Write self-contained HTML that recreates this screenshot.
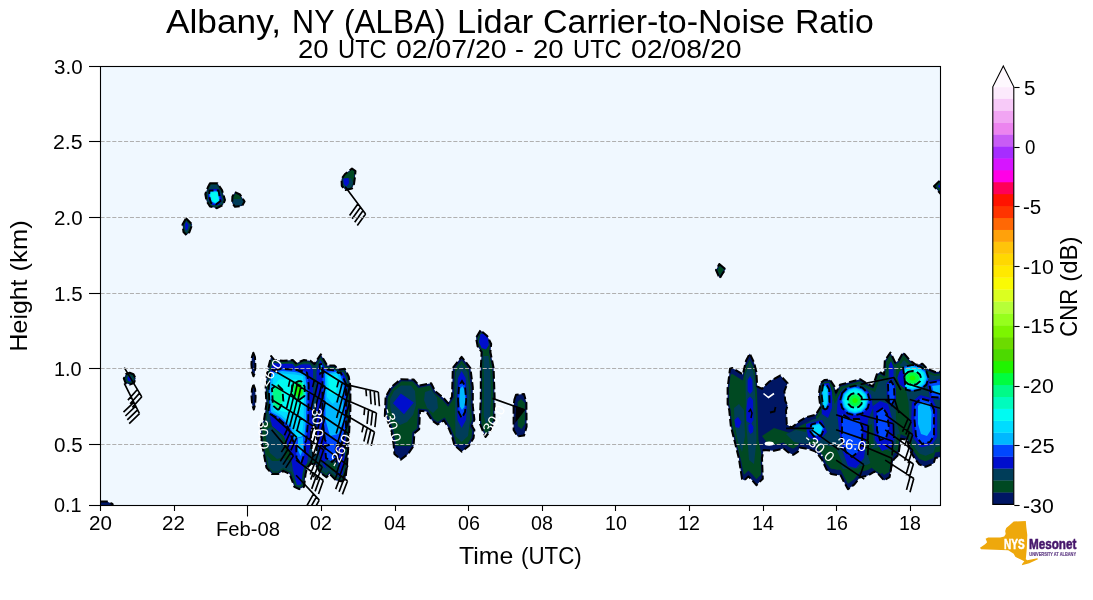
<!DOCTYPE html>
<html><head><meta charset="utf-8"><title>Albany, NY (ALBA) Lidar Carrier-to-Noise Ratio</title>
<style>html,body{margin:0;padding:0;background:#fff;overflow:hidden}svg{display:block;will-change:transform}text{font-family:"Liberation Sans",sans-serif;fill:#000}</style></head><body>
<svg width="1093" height="600" viewBox="0 0 1093 600">
<rect x="0" y="0" width="1093" height="600" fill="#fff"/>
<rect x="100.5" y="66.5" width="840.0" height="439.0" fill="#f0f8ff"/>
<clipPath id="axclip"><rect x="100.5" y="66.5" width="840.0" height="439.0"/></clipPath>
<g clip-path="url(#axclip)">
<path d="M100.0 501.5L107.0 501.5L112.5 504.0L113.0 506.0L100.0 506.0Z" fill="#001664"/>
<path d="M129.7 372.8L133.5 374.2L135.6 378.5L134.0 383.0L129.7 384.6L125.5 383.0L123.8 378.5L125.8 374.3Z" fill="#001664"/>
<path d="M129.7 374.1L126.7 375.2L125.1 378.6L126.4 382.1L129.7 383.3L133.1 382.1L134.3 378.6L132.6 375.2Z" fill="#004922"/>
<path d="M129.7 375.4L127.6 376.2L126.4 378.6L127.4 381.1L129.7 382.0L132.1 381.1L133.0 378.6L131.8 376.1Z" fill="#003d59"/>
<path d="M131.0 376.4L129.7 375.9L127.9 376.6L127.8 376.9L127.5 379.0L128.4 381.0L129.7 381.5L131.5 380.9Z" fill="#000ecd"/>
<path d="M186.0 218.2L192.2 224.5L189.5 232.0L186.5 235.2L183.5 232.0L182.5 224.5Z" fill="#001664"/>
<path d="M186.2 219.7L183.4 224.7L184.4 231.6L186.5 233.9L188.7 231.5L191.2 224.7Z" fill="#004922"/>
<path d="M186.4 221.2L184.4 224.9L185.2 231.2L186.5 232.6L187.9 231.0L190.1 225.0Z" fill="#003d59"/>
<path d="M186.2 221.5L188.5 225.0L187.5 229.5L185.6 230.0L185.0 225.0Z" fill="#000ecd"/>
<path d="M210.0 183.3L217.5 183.3L222.0 190.0L225.0 200.0L223.0 205.0L217.0 208.2L210.0 206.5L206.5 201.0L205.3 194.0L208.0 187.0Z" fill="#001664"/>
<path d="M210.5 184.2L208.8 187.4L206.2 194.1L207.4 200.7L210.6 205.7L216.9 207.2L222.3 204.4L224.0 200.0L221.2 190.4L217.0 184.2Z" fill="#004922"/>
<path d="M211.1 185.1L209.6 187.8L207.2 194.2L208.2 200.3L211.1 204.9L216.8 206.3L221.6 203.7L223.1 199.9L220.4 190.8L216.5 185.1Z" fill="#003d59"/>
<path d="M209.5 189.0L208.8 190.9L208.1 197.7L208.5 199.7L211.8 204.7L213.0 205.0L218.4 205.0L219.3 204.5L222.0 200.0L219.2 189.7L218.7 189.0Z" fill="#000ecd"/>
<path d="M209.0 196.0L211.0 203.0L216.0 204.5L220.5 201.0L218.5 190.5L209.5 190.5Z" fill="#0047ff"/>
<path d="M209.6 195.0L211.5 201.5L215.5 203.5L219.5 201.3L218.0 191.3L210.3 191.5Z" fill="#00dcff"/>
<path d="M210.5 195.0L212.2 200.5L215.5 202.3L218.5 200.5L217.3 192.3L211.0 192.5Z" fill="#00fbf2"/>
<path d="M235.0 192.2L240.0 194.5L244.6 201.5L242.0 206.0L235.0 206.8L232.1 203.0L232.4 196.5Z" fill="#001664"/>
<path d="M235.4 193.4L233.3 196.8L233.0 202.7L235.4 205.8L241.4 205.2L243.5 201.5L239.4 195.2Z" fill="#004922"/>
<path d="M233.3 199.0L233.1 202.7L235.5 205.7L241.4 205.1L243.4 201.5L241.8 199.0Z" fill="#003d59"/>
<path d="M352.0 168.5L355.5 171.0L355.0 177.0L354.0 184.0L352.0 188.5L345.5 190.0L341.8 186.0L341.5 179.0L345.0 174.0Z" fill="#001664"/>
<path d="M352.0 169.6L345.7 174.6L342.4 179.3L342.7 185.6L345.8 189.0L351.4 187.7L353.1 183.7L354.1 176.9L354.6 171.4Z" fill="#004922"/>
<path d="M343.0 180.0L351.0 178.0L353.0 183.0L350.0 188.0L344.0 188.0Z" fill="#003d59"/>
<path d="M343.3 178.5L348.5 178.0L349.0 183.0L346.5 186.5L343.8 184.0Z" fill="#000ecd"/>
<path d="M719.3 264.0L725.7 269.3L722.7 273.3L719.7 278.3L718.3 275.3L716.0 270.0Z" fill="#001664"/>
<path d="M719.6 265.7L717.2 270.1L719.3 274.8L719.8 276.0L721.8 272.7L721.8 272.6L724.2 269.5Z" fill="#004922"/>
<path d="M934.0 186.3L941.0 179.3L941.0 194.3Z" fill="#001664"/>
<path d="M935.4 186.3L940.0 191.6L940.0 181.7Z" fill="#004922"/>
<path d="M937.5 186.3L941.0 183.5L941.0 189.0Z" fill="#000ecd"/>
<path d="M253.3 352.7L255.0 357.0L255.4 366.0L254.8 373.0L253.5 376.3L252.0 372.0L251.4 364.0L251.9 357.0Z" fill="#001664"/>
<path d="M253.5 384.5L255.1 389.0L255.6 397.0L255.1 405.0L253.8 409.6L252.2 405.0L251.5 396.0L252.0 389.0Z" fill="#001664"/>
<path d="M271.2 356.0L274.4 360.0L283.2 360.8L292.8 360.0L296.0 363.2L304.0 360.0L310.4 360.8L314.4 364.0L320.8 354.4L327.2 365.6L334.4 365.6L339.2 369.6L344.8 368.8L348.8 376.8L350.4 386.4L350.4 410.0L348.8 438.8L347.2 462.8L345.6 478.0L342.4 481.5L336.0 480.4L329.6 474.0L326.4 477.2L320.0 472.4L316.0 465.0L311.0 463.5L307.0 468.0L305.6 474.0L304.0 486.8L299.2 489.2L294.4 486.8L289.6 474.0L283.2 470.8L278.4 474.0L272.0 474.0L266.4 467.6L264.0 454.8L261.6 442.0L260.8 426.0L264.0 420.0L266.4 404.0L265.6 388.0L267.2 372.0Z" fill="#001664"/>
<path d="M271.8 358.9L268.5 372.2L266.9 388.0L267.7 404.1L265.3 420.4L262.1 426.3L262.9 441.8L267.6 467.0L272.6 472.7L278.0 472.7L283.1 469.3L290.6 473.1L295.4 485.9L299.2 487.7L302.8 485.9L304.3 473.8L305.8 467.4L310.6 462.0L316.9 463.9L321.0 471.5L326.3 475.5L329.6 472.2L336.6 479.2L341.9 480.1L344.4 477.4L345.9 462.7L347.5 438.7L349.1 410.0L349.1 386.5L347.5 377.2L344.1 370.2L338.8 371.0L333.9 366.9L326.4 366.9L320.7 356.9L314.7 365.9L309.9 362.0L304.2 361.3L295.7 364.7L292.3 361.3L283.2 362.1L273.7 361.2Z" fill="#004922"/>
<path d="M272.4 361.7L269.8 372.4L268.2 388.1L269.0 404.1L266.5 420.8L263.4 426.6L264.2 441.7L268.8 466.4L273.2 471.4L277.6 471.4L283.0 467.8L291.7 472.1L296.5 484.9L299.2 486.3L301.6 485.1L303.0 473.5L304.6 466.8L310.2 460.5L317.8 462.8L322.0 470.7L326.2 473.8L329.6 470.3L337.3 478.0L341.4 478.7L343.1 476.9L344.6 462.6L346.2 438.6L347.8 409.9L347.8 386.6L346.3 377.6L343.3 371.6L338.4 372.3L333.5 368.2L325.7 368.2L320.6 359.3L315.0 367.8L309.3 363.3L304.3 362.7L295.4 366.3L291.8 362.7L283.2 363.4L273.1 362.5Z" fill="#003d59"/>
<path d="M290.0 452.0L284.0 436.0L272.0 422.0L263.7 423.4L262.1 426.3L262.5 433.7L264.0 441.8L266.4 454.6L272.0 461.0L278.4 461.0L283.2 457.8L289.6 461.0L291.9 467.1Z" fill="#004922"/>
<path d="M265.5 430.0L272.0 426.5L281.0 436.0L285.0 448.0L284.5 457.0L277.0 459.0L270.0 453.0L266.5 442.0Z" fill="#003d59"/>
<path d="M290.0 364.0L285.9 363.7L283.2 363.9L272.8 363.0L272.7 362.9L270.3 372.5L268.7 388.1L269.5 404.2L268.6 410.2L272.0 426.0L284.0 436.0L290.0 452.0L293.0 470.0L296.9 484.5L296.9 484.6L297.6 484.9L301.2 484.3L302.5 473.5L304.1 466.5L307.0 463.3L309.0 450.0L313.0 438.0L313.0 370.0L310.0 364.5L301.2 364.5L295.2 366.9L292.5 364.1Z" fill="#000ecd"/>
<path d="M316.5 372.0L316.5 440.0L319.5 455.0L324.0 467.0L329.5 469.7L329.6 469.6L330.0 470.0L332.0 471.0L340.0 477.0L342.9 473.6L344.1 462.5L345.7 438.6L347.3 409.9L347.3 386.7L345.8 377.9L345.7 377.7L343.0 372.2L338.3 372.9L333.3 368.7L330.8 368.7L325.5 369.0L325.4 368.7L320.6 360.3L319.9 361.3Z" fill="#000ecd"/>
<path d="M327.0 470.0L334.0 474.0L340.0 472.0L338.0 462.0L330.0 458.0L324.0 462.0Z" fill="#003d59"/>
<path d="M333.0 472.0L337.0 468.0L333.0 462.0L327.0 465.0Z" fill="#004922"/>
<path d="M269.3 413.4L269.4 413.5L269.6 413.7L269.7 413.8L269.9 413.9L278.7 418.8L288.1 427.3L292.9 440.7L293.0 440.9L293.1 441.1L293.2 441.3L298.2 448.3L298.3 448.5L298.5 448.6L298.7 448.8L298.8 448.9L299.0 449.0L299.2 449.1L299.5 449.1L299.7 449.2L299.9 449.2L300.1 449.2L300.3 449.2L300.5 449.1L300.8 449.1L301.0 449.0L301.2 448.9L301.3 448.7L301.5 448.6L301.7 448.4L301.8 448.3L301.9 448.1L305.9 441.1L306.0 440.9L306.1 440.7L306.2 440.4L306.2 440.2L308.2 420.2L308.2 420.0L308.7 385.0L308.7 384.9L308.7 384.7L307.2 373.7L307.1 373.5L307.1 373.3L307.0 373.1L306.9 372.9L306.8 372.7L306.7 372.6L306.5 372.4L306.4 372.3L306.2 372.2L306.0 372.1L305.8 372.0L305.6 371.9L305.4 371.8L295.4 369.8L295.2 369.8L282.2 368.8L282.0 368.8L281.7 368.8L281.5 368.8L274.5 370.3L274.3 370.4L274.1 370.5L273.9 370.6L273.7 370.7L273.6 370.8L270.2 373.8L268.7 388.1L269.5 404.2L268.6 410.0L268.7 410.5Z" fill="#0047ff"/>
<path d="M271.0 412.0L280.0 417.0L290.0 426.0L295.0 440.0L300.0 447.0L304.0 440.0L306.0 420.0L306.5 385.0L305.0 374.0L295.0 372.0L282.0 371.0L275.0 372.5L271.0 376.0L269.5 392.0Z" fill="#00b8ff"/>
<path d="M273.3 410.5L281.2 414.9L281.4 415.0L281.6 415.2L291.6 424.2L291.8 424.4L291.9 424.6L292.1 424.8L292.2 425.0L292.3 425.2L297.1 438.9L299.8 442.6L301.7 439.3L303.6 419.9L304.1 385.1L302.9 376.0L294.7 374.4L282.2 373.4L276.1 374.7L273.3 377.2L271.9 392.0Z" fill="#00dcff"/>
<path d="M273.5 407.0L281.0 411.0L291.0 413.0L300.0 411.0L304.0 400.0L303.5 383.0L296.0 379.5L279.0 379.5L272.5 388.0Z" fill="#00fbf2"/>
<path d="M277.0 409.1L277.1 409.2L277.2 409.3L277.4 409.4L277.5 409.4L277.7 409.5L277.8 409.5L278.0 409.5L278.1 409.5L278.3 409.5L278.4 409.4L278.5 409.4L278.7 409.3L278.8 409.3L278.9 409.2L279.0 409.1L279.1 409.0L279.2 408.8L279.3 408.7L283.1 401.7L283.2 401.6L283.2 401.5L283.3 401.3L283.3 401.2L283.3 401.0L283.3 400.9L282.5 390.4L282.5 390.2L282.4 390.1L282.4 389.9L282.3 389.8L282.3 389.7L282.2 389.6L282.1 389.4L278.1 385.4L278.0 385.3L277.8 385.3L277.7 385.2L277.6 385.1L277.4 385.1L277.3 385.0L277.1 385.0L277.0 385.0L276.8 385.0L276.7 385.0L276.6 385.1L276.4 385.1L276.3 385.2L276.2 385.3L276.0 385.3L272.0 388.7L272.9 405.5Z" fill="#00fcbd"/>
<path d="M273.5 404.0L278.0 408.0L281.8 401.0L281.0 390.5L277.0 386.5L272.8 390.0Z" fill="#00fa88"/>
<path d="M291.6 392.7L291.6 393.1L291.6 393.4L291.6 393.7L291.7 394.1L291.8 394.4L292.0 394.7L292.2 395.0L292.4 395.2L295.4 398.7L295.6 399.0L295.9 399.2L296.2 399.4L296.4 399.6L296.8 399.7L297.1 399.8L297.4 399.9L297.8 399.9L298.1 399.9L298.4 399.9L298.8 399.9L299.1 399.8L299.4 399.6L299.7 399.5L300.0 399.3L303.5 396.8L303.8 396.6L304.0 396.4L304.2 396.1L304.4 395.9L304.6 395.6L304.7 395.3L304.8 395.0L304.8 394.8L304.6 386.6L302.5 382.8L302.3 382.5L302.1 382.3L301.9 382.0L301.7 381.8L301.4 381.6L301.1 381.5L300.8 381.3L300.5 381.2L300.2 381.1L299.9 381.1L299.5 381.1L299.2 381.1L298.9 381.1L298.6 381.2L298.3 381.3L298.0 381.4L294.0 383.4L293.6 383.6L293.4 383.8L293.1 384.0L292.9 384.3L292.6 384.6L292.5 384.9L292.3 385.2L292.2 385.5L292.1 385.9L292.1 386.2Z" fill="#00fcbd"/>
<path d="M292.7 392.8L292.7 393.0L292.7 393.3L292.8 393.5L292.8 393.7L292.9 393.9L293.0 394.1L293.1 394.3L293.3 394.5L296.3 398.0L296.4 398.2L296.6 398.3L296.8 398.4L297.0 398.6L297.2 398.6L297.4 398.7L297.6 398.8L297.8 398.8L298.1 398.8L298.3 398.8L298.5 398.7L298.7 398.7L298.9 398.6L299.1 398.5L299.3 398.4L302.8 395.9L303.0 395.7L303.2 395.6L303.3 395.4L303.4 395.2L303.5 395.1L303.6 394.9L303.7 394.7L303.8 394.4L303.8 394.2L304.3 389.2L304.3 389.0L304.3 388.8L304.3 388.5L304.2 388.3L304.1 388.1L304.0 387.9L301.5 383.4L301.4 383.2L301.3 383.0L301.1 382.9L300.9 382.7L300.8 382.6L300.6 382.5L300.4 382.4L300.2 382.3L300.0 382.2L299.8 382.2L299.5 382.2L299.3 382.2L299.1 382.2L298.9 382.3L298.7 382.4L298.5 382.4L294.5 384.4L294.3 384.6L294.1 384.7L293.9 384.9L293.7 385.0L293.6 385.2L293.5 385.4L293.4 385.6L293.3 385.9L293.2 386.1L293.2 386.3Z" fill="#00fa88"/>
<path d="M293.9 392.9L293.9 393.0L293.9 393.1L293.9 393.2L293.9 393.4L293.9 393.5L294.0 393.6L294.1 393.7L294.1 393.7L297.1 397.2L297.2 397.3L297.3 397.4L297.4 397.5L297.5 397.5L297.6 397.6L297.7 397.6L297.8 397.6L297.9 397.6L298.0 397.6L298.1 397.6L298.3 397.6L298.4 397.6L298.5 397.5L298.6 397.5L298.7 397.4L302.2 394.9L302.3 394.9L302.3 394.8L302.4 394.7L302.5 394.6L302.5 394.5L302.6 394.4L302.6 394.3L302.6 394.2L302.6 394.1L303.1 389.1L303.1 389.0L303.1 388.9L303.1 388.8L303.1 388.7L303.1 388.5L303.0 388.4L300.5 383.9L300.4 383.8L300.4 383.8L300.3 383.7L300.2 383.6L300.1 383.5L300.0 383.5L299.9 383.4L299.8 383.4L299.7 383.4L299.6 383.4L299.5 383.4L299.4 383.4L299.3 383.4L299.2 383.4L299.1 383.4L299.0 383.5L295.0 385.5L294.9 385.5L294.8 385.6L294.7 385.7L294.6 385.8L294.5 385.9L294.5 386.0L294.4 386.1L294.4 386.2L294.4 386.3L294.4 386.4Z" fill="#00fd3f"/>
<path d="M295.0 393.0L298.0 396.5L301.5 394.0L302.0 389.0L299.5 384.5L295.5 386.5Z" fill="#20f400"/>
<path d="M296.5 458.0L301.0 464.0L305.0 452.0L304.0 436.0L296.0 438.0Z" fill="#0047ff"/>
<path d="M298.0 450.0L300.5 456.0L303.5 448.0L303.0 437.0L298.0 438.0Z" fill="#00b8ff"/>
<path d="M325.0 369.5L322.5 374.0L322.5 420.0L325.0 440.0L332.0 450.0L342.0 444.0L346.0 428.0L346.0 384.0L340.7 372.5L338.3 372.9L335.5 370.5Z" fill="#0047ff"/>
<path d="M325.0 373.0L325.5 420.0L330.0 436.0L338.5 434.0L343.5 420.0L343.5 384.0L339.4 372.7L338.3 372.9L336.9 371.7Z" fill="#00b8ff"/>
<path d="M327.0 397.0L332.5 404.0L339.0 399.0L340.5 385.0L337.5 373.5L326.5 374.5Z" fill="#00dcff"/>
<path d="M329.5 393.0L335.5 394.5L338.3 385.0L336.0 376.0L328.0 377.0Z" fill="#00fbf2"/>
<path d="M320.2 373.5L322.6 371.5L322.0 364.0L319.6 364.5Z" fill="#00b8ff"/>
<path d="M326.0 458.0L332.0 462.0L338.0 456.0L334.0 444.0L325.0 446.0Z" fill="#0047ff"/>
<path d="M384.8 416.0L385.6 396.8L391.2 387.2L400.8 379.2L413.6 379.5L419.2 385.6L431.2 383.2L435.2 391.2L444.0 398.4L448.0 403.2L452.0 396.8L452.8 368.0L461.6 356.8L470.4 368.0L472.8 387.2L472.8 406.0L474.4 419.6L472.0 426.0L474.4 430.0L473.6 438.0L468.8 446.0L461.6 451.6L454.4 445.2L452.0 436.4L448.8 428.4L444.0 420.4L437.6 424.4L432.0 420.4L426.4 411.6L420.0 410.8L419.2 429.2L414.4 433.2L413.6 446.0L408.0 454.0L400.8 459.6L394.4 454.0L393.6 444.4L391.2 430.0L385.6 415.6Z" fill="#001664"/>
<path d="M387.0 413.4L393.2 429.4L395.7 444.1L396.4 453.0L400.9 456.9L406.5 452.5L411.5 445.3L412.4 432.2L417.1 428.2L418.0 408.4L427.6 409.6L433.6 418.9L437.7 421.9L444.7 417.5L450.7 427.5L454.0 435.7L456.3 444.0L461.7 448.9L467.2 444.6L471.6 437.3L472.2 430.5L469.7 426.2L472.3 419.3L470.7 406.1L470.7 387.3L468.4 368.8L461.6 360.2L454.9 368.8L454.1 397.4L448.2 406.8L442.5 399.9L433.5 392.5L430.0 385.6L418.5 387.9L412.7 381.6L401.5 381.3L392.8 388.6L387.7 397.4Z" fill="#004922"/>
<path d="M393.7 446.0L394.4 454.0L400.8 459.6L408.0 454.0L413.6 446.0Z" fill="#001664"/>
<path d="M454.1 444.0L454.4 445.2L461.6 451.6L468.8 446.0L470.0 444.0Z" fill="#001664"/>
<path d="M390.0 399.0L394.0 391.0L401.0 385.5L411.0 385.5L415.0 391.0L416.0 405.0L413.0 415.0L407.0 422.0L400.0 425.0L395.0 420.0L390.5 410.0Z" fill="#003d59"/>
<path d="M425.0 392.0L431.0 390.0L437.0 398.0L438.0 408.0L433.0 413.0L427.0 408.0L424.0 400.0Z" fill="#003d59"/>
<path d="M456.0 372.0L461.6 364.0L467.5 372.0L469.5 395.0L470.0 420.0L468.0 436.0L461.6 442.0L455.5 436.0L455.0 410.0Z" fill="#003d59"/>
<path d="M400.8 393.4L413.8 402.4L404.0 414.2L393.0 403.2Z" fill="#000ecd"/>
<path d="M458.0 378.0L461.6 371.0L465.6 378.0L467.2 400.0L466.0 420.0L461.6 428.0L457.5 420.0L456.8 400.0Z" fill="#000ecd"/>
<path d="M459.0 386.0L462.0 381.0L465.0 386.0L466.2 400.0L465.0 412.0L461.8 418.0L458.6 412.0L458.0 400.0Z" fill="#0047ff"/>
<path d="M460.0 389.0L462.3 386.0L464.5 390.0L465.4 400.0L464.3 407.0L462.0 410.0L460.0 406.5L459.5 398.0Z" fill="#00b8ff"/>
<path d="M480.5 330.4L476.0 337.6L477.6 346.4L481.6 352.0L480.8 368.0L480.8 396.8L480.0 416.0L480.0 424.0L482.4 430.0L485.6 437.0L490.4 431.0L494.4 420.0L494.6 396.8L493.6 368.0L490.4 352.0L491.2 344.0L487.2 336.0Z" fill="#001664"/>
<path d="M480.8 332.4L477.4 337.9L478.8 345.9L482.7 351.2L482.7 351.3L482.8 351.5L482.8 351.6L482.9 351.7L482.9 351.8L482.9 351.9L482.9 352.1L482.1 368.0L482.1 396.8L482.1 396.9L481.3 416.0L481.3 423.7L483.6 429.5L485.9 434.5L489.3 430.4L493.1 419.8L493.3 396.8L492.3 368.2L489.1 352.3L489.1 352.1L489.1 352.0L489.1 351.9L489.9 344.2L486.2 336.8Z" fill="#004922"/>
<path d="M483.5 356.0L488.5 356.0L490.5 372.0L491.0 400.0L490.0 418.0L486.0 424.0L483.8 416.0L484.0 380.0Z" fill="#003d59"/>
<path d="M480.5 334.0L484.0 333.5L488.0 338.0L488.8 345.0L486.0 349.5L481.5 348.0L478.8 342.0Z" fill="#000ecd"/>
<path d="M514.4 399.6L516.0 394.8L524.0 394.0L526.4 402.8L526.6 426.8L524.0 435.6L517.6 436.4L513.6 430.0L513.6 406.0Z" fill="#001664"/>
<path d="M517.6 402.0L521.0 399.0L524.8 403.0L524.8 424.0L521.5 429.0L517.8 426.0Z" fill="#004922"/>
<path d="M742.0 478.8L738.8 458.0L734.8 442.0L730.8 426.0L729.2 410.0L727.6 404.0L727.6 388.0L730.0 368.8L732.4 368.0L742.8 374.4L746.0 360.8L749.7 353.6L754.0 362.4L756.4 372.0L757.2 386.4L762.0 388.8L769.2 381.6L780.4 375.5L787.6 383.2L784.4 391.2L785.2 400.8L787.6 405.6L786.0 410.4L786.8 424.4L791.6 427.6L799.6 421.2L806.0 417.2L815.6 414.8L820.4 407.2L818.8 394.4L820.4 383.2L824.4 380.0L830.0 379.7L834.4 386.4L836.0 392.8L840.0 384.8L848.8 382.4L860.0 379.2L866.4 383.2L872.8 386.4L876.8 374.4L880.0 372.0L884.0 374.4L884.8 360.8L890.4 352.5L895.2 362.4L898.4 360.8L903.2 352.5L909.6 360.0L916.0 364.8L922.4 363.7L927.2 368.8L935.2 372.0L944.0 371.2L944.0 456.4L935.2 458.0L933.6 463.6L925.6 466.8L919.2 464.4L914.4 458.0L909.6 450.0L907.2 439.6L900.8 438.8L898.4 454.8L893.6 459.6L891.2 467.6L889.6 477.2L884.0 480.4L879.2 474.8L874.4 471.6L868.0 475.6L860.0 477.2L854.4 484.4L848.0 489.2L844.0 482.0L840.8 475.6L831.2 474.0L826.4 469.2L822.0 459.6L815.6 451.6L809.2 449.2L799.6 447.6L798.0 451.6L793.2 454.8L788.4 452.4L783.6 448.4L774.0 450.8L763.6 450.0L762.0 458.0L762.8 478.8L756.4 485.2L752.4 480.4L748.4 476.4L744.4 480.4Z" fill="#001664"/>
<path d="M761.0 452.0L758.5 440.0L757.0 392.0L756.7 387.7L755.8 387.3L755.0 372.5L754.0 368.4L749.7 359.6L746.0 366.7L743.7 376.6L743.7 376.6L742.8 380.4L732.4 374.0L730.7 374.6L729.0 388.1L729.0 403.2L729.2 404.0L729.3 404.9L730.6 409.7L732.1 425.4L734.8 436.0L738.8 452.0L738.8 452.2L741.0 460.0L743.6 473.9L744.4 474.4L748.4 470.4L752.4 474.4L756.4 479.2L761.0 474.6L761.0 468.4L760.6 457.9L761.0 455.9Z" fill="#004922"/>
<path d="M832.0 468.0L828.0 440.0L824.0 418.0L812.0 420.0L800.0 426.0L790.0 433.0L774.0 428.0L762.0 436.0L768.1 444.3L774.0 444.8L783.6 442.4L788.4 446.4L793.2 448.8L798.0 445.6L799.6 441.6L809.2 443.2L815.6 445.6L822.0 453.6L825.1 460.5Z" fill="#004922"/>
<path d="M822.0 454.1L826.4 463.7L831.2 468.5L840.8 470.1L844.0 476.5L848.0 483.7L854.4 478.9L860.0 471.7L868.0 470.1L874.4 466.1L879.2 469.3L884.0 474.9L889.2 472.0L889.9 467.3L890.8 464.3L891.2 462.1L893.6 454.1L897.8 449.9L899.7 437.4L900.2 437.4L900.8 433.3L907.2 434.1L908.2 438.4L908.3 438.4L909.7 444.7L914.4 452.5L919.2 458.9L925.6 461.3L933.6 458.1L935.2 452.5L942.7 451.1L942.7 373.3L935.2 374.0L927.2 370.8L922.4 365.7L916.0 366.8L909.6 362.0L908.7 361.0L908.7 361.0L903.4 354.7L899.3 361.8L898.8 362.0L898.4 362.8L895.2 364.4L895.0 364.0L894.6 364.2L890.2 355.1L886.1 361.2L885.2 376.6L884.0 375.9L884.0 376.4L880.0 374.0L877.7 375.7L873.6 388.2L873.0 387.9L872.8 388.4L866.4 385.2L860.0 381.2L848.8 384.4L840.5 386.7L835.6 396.5L833.2 386.9L829.8 381.7L824.4 382.0L821.6 384.3L820.1 394.4L821.7 407.5L816.4 415.9L816.1 416.0L816.0 416.2L816.0 446.6Z" fill="#004922"/>
<path d="M734.5 424.0L738.0 442.0L742.0 452.0L745.0 436.0L744.0 410.0L739.0 404.0L734.0 408.0Z" fill="#003d59"/>
<path d="M746.0 420.0L749.0 460.0L754.0 464.0L756.5 440.0L755.5 400.0L753.5 372.0L749.7 363.0L745.5 374.0Z" fill="#003d59"/>
<path d="M794.0 442.0L806.0 444.0L812.0 440.0L806.0 432.0L796.0 430.0L786.0 434.0Z" fill="#003d59"/>
<path d="M806.0 424.0L806.0 437.7L809.2 438.2L815.6 440.6L822.0 448.6L826.4 458.2L831.2 463.0L840.8 464.6L843.0 468.9L858.2 468.5L860.0 466.2L868.0 464.6L874.4 460.6L879.2 463.8L882.6 467.8L887.0 467.7L887.1 467.6L887.3 466.7L890.1 457.5L891.3 456.2L893.6 448.6L895.6 446.6L897.4 434.3L899.8 434.6L900.8 427.8L907.2 428.6L908.9 435.8L910.5 436.0L912.1 443.2L914.4 447.0L919.2 453.4L925.6 455.8L933.6 452.6L935.2 447.0L940.0 446.1L940.0 375.6L934.6 376.1L924.9 372.2L921.0 368.0L915.0 369.0L906.8 362.9L904.7 360.4L903.0 360.8L901.3 363.8L893.4 367.8L891.2 363.2L888.6 363.7L887.6 381.2L880.2 376.8L880.2 376.9L875.1 392.0L864.4 386.7L859.4 383.5L849.9 386.3L842.8 388.2L834.7 404.3L830.7 388.0L827.9 383.8L825.9 383.9L824.1 385.3L822.8 394.4L824.5 408.1L818.1 418.3L812.4 419.7Z" fill="#003d59"/>
<path d="M896.0 370.0L895.5 390.0L896.0 420.0L900.0 434.0L905.0 436.0L910.0 438.0L908.5 402.0L906.0 390.0L903.0 367.0L897.0 364.0Z" fill="#004922"/>
<path d="M824.0 456.0L830.0 468.0L838.0 470.0L842.0 462.0L836.0 448.0L822.0 444.0Z" fill="#004922"/>
<path d="M888.0 470.0L892.0 452.0L880.0 447.0L866.0 450.0L872.0 468.0L875.8 470.9L880.1 473.7L880.3 473.9Z" fill="#004922"/>
<path d="M866.0 452.0L874.0 446.0L872.0 424.0L863.0 428.0Z" fill="#004922"/>
<path d="M735.5 427.0L739.0 428.0L741.5 422.0L738.0 417.0L734.5 420.0Z" fill="#000ecd"/>
<path d="M747.6 391.0L750.0 394.0L752.6 391.0L752.4 380.0L750.0 376.0L747.6 380.0Z" fill="#000ecd"/>
<path d="M746.5 408.0L746.5 421.0L751.0 424.0L753.5 420.0L753.0 400.0L750.0 396.5L747.6 399.0Z" fill="#000ecd"/>
<path d="M748.6 431.0L750.5 434.0L753.0 432.0L753.5 427.0L751.0 423.0L748.4 425.0Z" fill="#000ecd"/>
<path d="M837.0 410.0L839.0 430.0L843.0 452.0L848.0 466.0L856.0 468.0L864.0 458.0L866.0 440.0L868.0 420.0L873.0 408.0L871.0 395.0L866.0 389.0L856.0 387.0L846.0 388.5L840.9 392.0L837.7 398.3Z" fill="#000ecd"/>
<path d="M875.0 440.0L882.0 451.0L892.0 447.0L895.0 436.0L892.0 418.0L888.0 404.0L880.0 401.0L873.0 406.0Z" fill="#000ecd"/>
<path d="M877.0 430.0L880.0 440.0L886.0 438.0L889.0 428.0L887.0 414.0L883.0 408.0L877.0 412.0Z" fill="#0047ff"/>
<path d="M889.5 380.0L893.5 380.0L893.5 367.0L891.0 361.0L889.0 366.0Z" fill="#000ecd"/>
<path d="M887.0 400.0L887.0 400.2L887.0 400.3L887.1 400.5L887.1 400.6L887.2 400.8L890.2 405.8L890.3 405.9L890.4 406.0L890.5 406.1L890.6 406.2L890.7 406.3L890.9 406.4L891.0 406.4L891.1 406.5L891.3 406.5L891.4 406.5L891.6 406.5L891.7 406.5L891.9 406.5L892.0 406.4L892.1 406.4L892.3 406.3L892.4 406.2L892.5 406.1L892.6 406.0L892.7 405.9L892.8 405.8L895.8 400.8L895.9 400.6L895.9 400.5L896.0 400.4L896.0 400.2L896.0 400.1L896.0 399.9L895.5 385.9L895.5 385.8L895.5 385.6L895.4 385.5L895.4 385.4L895.3 385.2L892.3 380.2L892.2 380.1L892.1 380.0L892.0 379.9L891.9 379.8L891.8 379.7L891.6 379.6L891.5 379.6L891.3 379.5L891.2 379.5L891.0 379.5L890.9 379.5L890.7 379.5L890.6 379.6L890.4 379.6L890.3 379.7L890.2 379.7L890.1 379.8L889.9 379.9L886.9 382.9L886.8 383.1L886.7 383.2L886.7 383.3L886.6 383.4L886.6 383.6L886.5 383.7L886.5 383.9L886.5 384.0Z" fill="#000ecd"/>
<path d="M824.4 383.6L823.0 384.7L821.6 394.4L823.3 407.8L821.6 410.5L822.0 414.0L828.0 418.0L832.0 408.0L832.0 392.0L829.2 383.6L828.8 383.0Z" fill="#000ecd"/>
<path d="M808.0 437.0L819.0 441.0L827.0 432.0L822.0 420.0L806.0 424.0Z" fill="#000ecd"/>
<path d="M925.6 371.8L920.1 367.2L915.7 366.3L915.6 366.3L915.6 366.3L912.5 365.6L904.9 367.2L899.4 371.8L897.3 378.0L899.4 384.2L904.9 388.8L912.5 390.4L920.1 388.8L925.6 384.2L927.7 378.0Z" fill="#000ecd"/>
<path d="M911.3 419.9L911.3 420.3L912.8 436.3L912.9 436.6L912.9 436.9L913.0 437.2L913.1 437.4L913.3 437.7L913.4 437.9L919.4 445.9L919.6 446.2L919.9 446.4L920.1 446.6L920.4 446.8L920.6 446.9L920.9 447.0L921.2 447.1L921.5 447.2L921.8 447.2L922.2 447.2L922.5 447.2L922.8 447.1L930.8 445.1L931.1 445.0L931.3 444.9L931.6 444.8L931.8 444.6L932.1 444.4L932.3 444.2L932.5 444.0L932.7 443.8L936.7 437.8L936.8 437.5L937.0 437.2L937.1 436.9L937.1 436.6L937.2 436.3L937.2 436.0L937.2 410.0L937.2 409.7L937.1 409.3L937.0 409.0L936.9 408.7L932.9 399.7L932.8 399.4L932.6 399.2L932.4 398.9L932.2 398.7L932.0 398.5L931.7 398.3L931.4 398.1L931.2 398.0L930.9 397.9L921.9 395.4L921.5 395.3L921.2 395.3L920.9 395.3L920.6 395.3L920.3 395.4L919.9 395.5L919.6 395.6L919.4 395.8L919.1 395.9L918.8 396.1L912.8 401.6L912.6 401.9L912.4 402.1L912.2 402.4L912.1 402.7L912.0 403.0L911.9 403.3L911.8 403.6L911.8 403.9Z" fill="#000ecd"/>
<path d="M930.0 397.4L930.1 397.6L930.2 397.8L930.3 398.0L930.4 398.1L930.5 398.3L930.6 398.4L930.8 398.6L930.9 398.7L931.1 398.8L931.3 398.9L931.5 398.9L931.7 399.0L931.9 399.0L942.6 399.8L942.6 378.6L928.7 381.0L928.5 381.1L928.3 381.1L928.1 381.2L927.9 381.3L927.7 381.4L927.6 381.6L927.5 381.7L927.3 381.9L927.2 382.1L927.2 382.2L927.1 382.4L927.0 382.6L927.0 382.8L927.0 383.0L927.0 383.2L927.0 383.4Z" fill="#000ecd"/>
<path d="M842.0 440.0L846.0 452.0L852.0 457.0L858.0 452.0L862.0 441.0L862.5 428.0L859.0 419.0L850.0 419.0L842.0 414.0Z" fill="#0047ff"/>
<path d="M888.5 400.0L891.5 405.0L894.5 400.0L894.0 386.0L891.0 381.0L888.0 384.0Z" fill="#0047ff"/>
<path d="M867.8 393.1L862.4 387.7L855.0 385.7L847.6 387.7L842.2 393.1L840.2 400.5L842.2 407.9L847.6 413.3L855.0 415.3L862.4 413.3L867.8 407.9L869.8 400.5Z" fill="#0047ff"/>
<path d="M866.3 394.0L861.5 389.2L855.0 387.5L848.5 389.2L843.7 394.0L842.0 400.5L843.7 407.0L848.5 411.8L855.0 413.5L861.5 411.8L866.3 407.0L868.0 400.5Z" fill="#00b8ff"/>
<path d="M865.3 394.6L861.0 390.2L855.0 388.6L849.0 390.2L844.7 394.6L843.1 400.5L844.7 406.4L849.0 410.8L855.0 412.4L861.0 410.8L865.3 406.4L866.9 400.5Z" fill="#00dcff"/>
<path d="M864.2 395.2L860.3 391.3L855.0 389.9L849.7 391.3L845.8 395.2L844.4 400.5L845.8 405.8L849.7 409.7L855.0 411.1L860.3 409.7L864.2 405.8L865.6 400.5Z" fill="#00fbf2"/>
<path d="M861.4 396.8L858.7 394.1L855.0 393.1L851.3 394.1L848.6 396.8L847.6 400.5L848.6 404.2L851.3 406.9L855.0 407.9L858.7 406.9L861.4 404.2L862.4 400.5Z" fill="#00fcbd"/>
<path d="M860.7 397.2L858.3 394.8L855.0 393.9L851.7 394.8L849.3 397.2L848.4 400.5L849.3 403.8L851.7 406.2L855.0 407.1L858.3 406.2L860.7 403.8L861.6 400.5Z" fill="#00fa88"/>
<path d="M859.8 397.7L857.8 395.7L855.0 394.9L852.2 395.7L850.2 397.7L849.4 400.5L850.2 403.3L852.2 405.3L855.0 406.1L857.8 405.3L859.8 403.3L860.6 400.5Z" fill="#00fd3f"/>
<path d="M857.3 399.2L856.3 398.2L855.0 397.9L853.7 398.2L852.7 399.2L852.4 400.5L852.7 401.8L853.7 402.8L855.0 403.1L856.3 402.8L857.3 401.8L857.6 400.5Z" fill="#20f400"/>
<path d="M926.4 371.4L920.5 366.6L917.5 366.0L915.6 366.3L914.3 365.2L912.5 364.9L904.5 366.6L903.1 367.7L906.0 389.7L912.5 391.1L920.5 389.4L926.4 384.6L928.6 378.0Z" fill="#0047ff"/>
<path d="M925.1 372.1L919.8 367.7L912.5 366.1L905.2 367.7L903.3 369.3L905.8 388.4L912.5 389.9L919.8 388.3L925.1 383.9L927.0 378.0Z" fill="#00b8ff"/>
<path d="M923.9 372.6L919.1 368.6L912.5 367.2L905.9 368.6L903.5 370.6L905.6 387.1L905.9 387.4L912.5 388.8L919.1 387.4L923.9 383.4L925.7 378.0Z" fill="#00dcff"/>
<path d="M922.6 373.2L918.3 369.7L912.5 368.5L906.7 369.7L903.7 372.2L905.4 385.2L906.7 386.3L912.5 387.5L918.3 386.3L922.6 382.8L924.2 378.0Z" fill="#00fbf2"/>
<path d="M919.9 374.5L916.8 371.9L912.5 371.0L908.2 371.9L905.1 374.5L904.3 376.9L904.8 380.6L905.1 381.5L908.2 384.1L912.5 385.0L916.8 384.1L919.9 381.5L921.1 378.0Z" fill="#00fcbd"/>
<path d="M919.2 374.9L916.4 372.5L912.5 371.7L908.6 372.5L905.8 374.9L904.8 378.0L905.8 381.2L908.6 383.5L912.5 384.3L916.4 383.5L919.2 381.2L920.2 378.0Z" fill="#00fa88"/>
<path d="M918.2 375.3L915.8 373.3L912.5 372.6L909.2 373.3L906.8 375.3L905.9 378.0L906.8 380.7L909.2 382.7L912.5 383.4L915.8 382.7L918.2 380.7L919.1 378.0Z" fill="#00fd3f"/>
<path d="M915.2 376.7L914.0 375.8L912.5 375.5L911.0 375.8L909.8 376.7L909.4 378.0L909.8 379.3L911.0 380.2L912.5 380.5L914.0 380.2L915.2 379.3L915.6 378.0Z" fill="#20f400"/>
<path d="M914.5 420.0L916.0 436.0L922.0 444.0L930.0 442.0L934.0 436.0L934.0 410.0L930.0 401.0L921.0 398.5L915.0 404.0Z" fill="#0047ff"/>
<path d="M918.0 424.0L921.0 434.0L927.0 436.0L931.0 430.0L931.5 412.0L929.0 404.0L922.0 402.0L918.0 406.0Z" fill="#00b8ff"/>
<path d="M929.0 383.0L932.0 397.0L941.2 397.7L941.2 380.8Z" fill="#0047ff"/>
<path d="M932.0 386.0L934.0 393.0L941.2 393.6L941.2 384.7Z" fill="#00b8ff"/>
<path d="M823.3 408.0L823.4 408.2L823.6 408.4L823.7 408.5L823.9 408.7L824.0 408.8L824.2 408.9L824.4 409.0L824.6 409.1L824.8 409.2L825.1 409.2L825.3 409.2L825.5 409.2L825.7 409.2L825.9 409.1L826.1 409.0L826.3 408.9L826.5 408.8L826.7 408.7L826.9 408.5L827.0 408.4L827.1 408.2L827.3 408.0L827.3 407.8L829.3 402.8L829.4 402.6L829.5 402.4L829.5 402.2L829.5 401.9L829.2 389.9L829.2 389.7L829.1 389.5L829.1 389.3L829.0 389.1L828.9 388.9L826.9 385.4L826.8 385.2L826.7 385.1L826.5 384.9L826.3 384.8L826.2 384.6L826.0 384.5L825.8 384.4L825.5 384.4L825.3 384.3L825.1 384.3L824.9 384.3L824.7 384.3L824.5 384.4L824.3 384.4L824.0 384.5L823.9 384.6L823.7 384.7L823.5 384.9L823.4 385.0L823.2 385.2L822.9 385.7L821.6 394.4L823.3 407.8L823.3 407.9Z" fill="#0047ff"/>
<path d="M822.2 398.8L822.9 404.7L824.3 407.5L824.4 407.6L824.4 407.7L824.5 407.8L824.6 407.8L824.7 407.9L824.8 408.0L824.9 408.0L825.0 408.0L825.1 408.1L825.2 408.1L825.3 408.1L825.4 408.1L825.5 408.1L825.6 408.1L825.7 408.0L825.8 408.0L825.9 407.9L826.0 407.8L826.1 407.8L826.2 407.7L826.2 407.6L826.3 407.5L826.3 407.4L828.3 402.4L828.4 402.3L828.4 402.2L828.4 402.1L828.4 402.0L828.1 390.0L828.1 389.9L828.1 389.8L828.0 389.7L828.0 389.6L828.0 389.5L826.0 386.0L825.9 385.9L825.8 385.8L825.8 385.7L825.7 385.6L825.6 385.6L825.5 385.5L825.4 385.5L825.3 385.4L825.2 385.4L825.1 385.4L824.9 385.4L824.8 385.4L824.7 385.4L824.6 385.5L824.5 385.5L824.4 385.6L824.3 385.6L824.3 385.7L824.2 385.8L824.1 385.9L822.5 388.0L822.1 391.0Z" fill="#00b8ff"/>
<path d="M823.3 403.0L825.3 407.0L827.3 402.0L827.0 390.0L825.0 386.5L823.2 389.0Z" fill="#00dcff"/>
<path d="M810.4 430.8L810.4 431.0L810.4 431.1L810.4 431.3L810.5 431.5L810.5 431.7L810.6 431.9L810.7 432.0L810.8 432.2L813.4 435.7L813.5 435.8L813.6 436.0L813.8 436.1L813.9 436.2L814.1 436.3L814.3 436.4L814.5 436.4L814.6 436.5L814.8 436.5L815.0 436.5L815.2 436.5L815.4 436.5L820.4 435.5L820.6 435.4L820.8 435.3L821.0 435.3L821.1 435.1L821.3 435.0L821.5 434.9L821.6 434.7L821.7 434.6L821.8 434.4L821.9 434.2L823.9 428.7L823.9 428.5L824.0 428.3L824.0 428.1L824.0 427.9L824.0 427.7L823.9 427.5L823.9 427.4L823.8 427.2L823.7 427.0L823.6 426.9L823.5 426.7L820.5 423.2L820.4 423.1L820.2 422.9L820.1 422.8L819.9 422.7L819.7 422.6L819.5 422.6L819.3 422.5L819.1 422.5L818.9 422.5L818.7 422.5L818.5 422.6L812.5 424.1L812.3 424.1L812.1 424.2L812.0 424.3L811.8 424.4L811.6 424.5L811.5 424.7L811.4 424.8L811.3 425.0L811.2 425.2L811.1 425.4L811.0 425.6L811.0 425.8Z" fill="#0047ff"/>
<path d="M811.5 430.9L811.5 431.0L811.5 431.1L811.5 431.1L811.5 431.2L811.6 431.3L811.6 431.4L811.6 431.5L811.7 431.5L814.3 435.0L814.3 435.1L814.4 435.2L814.5 435.2L814.5 435.3L814.6 435.3L814.7 435.3L814.8 435.4L814.8 435.4L814.9 435.4L815.0 435.4L815.1 435.4L815.2 435.4L820.2 434.4L820.3 434.4L820.4 434.3L820.4 434.3L820.5 434.2L820.6 434.2L820.7 434.1L820.7 434.0L820.8 434.0L820.8 433.9L820.8 433.8L822.8 428.3L822.9 428.2L822.9 428.1L822.9 428.1L822.9 428.0L822.9 427.9L822.9 427.8L822.9 427.7L822.8 427.6L822.8 427.6L822.7 427.5L822.7 427.4L819.7 423.9L819.6 423.8L819.6 423.8L819.5 423.7L819.4 423.7L819.3 423.7L819.2 423.6L819.1 423.6L819.1 423.6L819.0 423.6L818.9 423.6L818.8 423.6L812.8 425.1L812.7 425.2L812.6 425.2L812.5 425.2L812.5 425.3L812.4 425.3L812.3 425.4L812.3 425.5L812.2 425.6L812.2 425.6L812.1 425.7L812.1 425.8L812.1 425.9Z" fill="#00b8ff"/>
<path d="M812.4 431.0L815.0 434.5L820.0 433.5L822.0 428.0L819.0 424.5L813.0 426.0Z" fill="#00dcff"/>
<path d="M311 429L315.5 427L317 440L316.6 453.5L313.4 456L311.2 446Z" fill="#f0f8ff"/><path d="M901 439.5L907 440L909 452L903 456L899.5 455Z" fill="#f0f8ff"/>
<path d="M124.3 367.6L141.8 396.8M141.8 396.8L132.3 407.4M139.6 393.1L130.1 403.8M137.4 389.5L127.9 400.1M124.3 383.3L139.5 413.7M139.5 413.7L129.2 423.6M137.6 409.9L127.3 419.8M135.7 406.1L125.4 416.0M133.8 402.3L123.5 412.2M345.2 186.8L365.6 214.0M365.6 214.0L357.3 225.6M363.1 210.6L354.7 222.2M360.5 207.2L352.2 218.8M358.0 203.8L349.6 215.4M271.6 369.3L301.0 386.3M301.0 386.3L297.9 400.2M297.3 384.1L294.2 398.0M293.7 382.0L290.5 395.9M290.0 379.9L288.4 386.8M271.6 384.4L300.7 401.9M300.7 401.9L297.4 415.8M297.1 399.7L293.7 413.6M293.4 397.5L290.1 411.4M289.8 395.3L286.4 409.2M271.6 399.5L300.4 417.6M300.4 417.6L296.8 431.3M296.8 415.3L293.2 429.1M293.2 413.0L289.6 426.8M289.6 410.8L286.0 424.6M271.6 414.7L296.8 437.4M296.8 437.4L290.9 450.4M293.7 434.6L287.7 447.5M290.5 431.7L284.6 444.7M287.4 428.9L284.4 435.4M271.6 429.8L293.4 455.9M293.4 455.9L285.7 467.9M290.7 452.6L283.0 464.6M288.0 449.3L280.3 461.3M285.2 446.1L281.4 452.1M296.1 369.3L325.3 386.8M325.3 386.8L321.9 400.6M321.6 384.6L318.3 398.4M318.0 382.4L314.6 396.2M314.3 380.2L312.6 387.1M296.1 384.4L325.3 401.9M325.3 401.9L321.9 415.8M321.6 399.7L318.3 413.6M318.0 397.5L314.6 411.4M314.3 395.3L311.0 409.2M296.1 399.5L324.9 417.6M324.9 417.6L321.3 431.3M321.3 415.3L317.7 429.1M317.7 413.0L314.1 426.8M314.1 410.8L312.3 417.7M296.1 414.7L324.3 433.7M324.3 433.7L320.2 447.3M320.8 431.3L316.7 445.0M317.3 428.9L313.2 442.6M313.7 426.6L309.7 440.2M296.1 429.8L323.6 449.8M323.6 449.8L319.1 463.3M320.2 447.3L315.6 460.8M316.7 444.8L312.2 458.3M313.3 442.3L311.0 449.1M296.1 444.9L322.2 466.8M322.2 466.8L316.7 480.0M318.9 464.1L313.4 477.2M315.6 461.3L310.2 474.5M312.4 458.6L309.7 465.2M296.1 460.1L323.3 480.5M323.3 480.5L318.5 494.0M319.9 478.0L315.1 491.4M316.5 475.4L311.7 488.9M313.1 472.9L310.7 479.6M296.1 475.2L319.3 500.1M319.3 500.1L312.3 512.5M316.4 497.0L309.4 509.4M313.5 493.9L306.5 506.3M320.7 369.3L349.5 387.3M349.5 387.3L345.9 401.1M345.9 385.0L342.3 398.8M342.3 382.8L338.7 396.6M338.7 380.5L336.9 387.4M320.7 384.4L349.5 402.4M349.5 402.4L345.9 416.2M345.9 400.2L342.3 413.9M342.3 397.9L338.7 411.7M338.7 395.7L336.9 402.5M320.7 399.5L349.2 418.1M349.2 418.1L345.3 431.8M345.6 415.7L341.8 429.5M342.0 413.4L338.2 427.1M338.5 411.1L336.6 418.0M320.7 414.7L348.8 433.7M348.8 433.7L344.8 447.3M345.3 431.3L341.2 445.0M341.8 428.9L337.7 442.6M338.3 426.6L336.2 433.4M320.7 429.8L348.5 449.3M348.5 449.3L344.2 462.9M345.0 446.9L340.7 460.5M341.5 444.4L337.2 458.0M338.1 442.0L335.9 448.8M320.7 444.9L347.8 465.4M347.8 465.4L343.0 478.8M344.4 462.9L339.6 476.3M341.0 460.3L336.2 473.7M337.6 457.7L335.2 464.4M320.7 460.1L347.5 481.0M347.5 481.0L342.4 494.4M344.1 478.4L339.1 491.7M340.8 475.8L335.7 489.1M337.4 473.2L334.9 479.8M345.2 384.4L378.3 392.0M378.3 392.0L379.4 406.3M374.2 391.1L375.3 405.3M370.1 390.1L371.1 404.3M365.9 389.2L366.5 396.3M345.2 399.5L376.4 413.0M376.4 413.0L374.9 427.2M372.5 411.3L371.0 425.5M368.6 409.7L367.1 423.8M364.7 408.0L364.0 415.1M345.2 414.7L374.5 432.0M374.5 432.0L371.2 445.8M370.8 429.8L367.5 443.7M367.2 427.7L363.9 441.5M363.5 425.5L361.9 432.4M492.5 398.4L524.5 409.9M811.6 429.8L839.1 449.8M836.1 414.7L868.3 425.7M868.3 425.7L867.9 439.9M836.1 429.8L868.3 440.9M868.3 440.9L867.8 455.1M836.1 444.9L863.8 464.7M863.8 464.7L859.3 478.2M836.1 460.1L864.3 479.1M860.6 384.4L893.9 377.5M893.9 377.5L900.9 390.0M860.6 399.5L894.6 399.5M894.6 399.5L898.9 413.1M860.6 414.7L893.4 423.8M893.4 423.8L893.8 438.1M860.6 429.8L892.7 441.3M892.7 441.3L892.1 455.5M860.6 444.9L891.9 458.2M891.9 458.2L890.5 472.4M885.2 399.5L911.2 421.4M911.2 421.4L905.8 434.5M908.0 418.7L902.5 431.8M885.2 414.7L912.7 434.7M912.7 434.7L908.1 448.2M909.3 432.2L904.7 445.7M885.2 429.8L912.7 449.8M912.7 449.8L908.1 463.3M909.3 447.3L904.7 460.8M885.2 444.9L913.4 464.0M913.4 464.0L909.3 477.6M909.9 461.6L905.8 475.2M885.2 460.1L913.8 478.5M913.8 478.5L910.0 492.2M910.2 476.2L906.5 489.9M909.7 384.4L942.1 394.7M942.1 394.7L942.0 409.0M909.7 399.5L942.4 408.9M942.4 408.9L942.8 423.2M786 428.4H814" fill="none" stroke="#000" stroke-width="1.65" stroke-linecap="butt"/><path d="M524.5 409.9L515.9 421.2L516.5 407.0Z" fill="#000" stroke="#000" stroke-width="1.2"/>
</g>
<g stroke="#b0b0b0" stroke-width="1.1" stroke-dasharray="4.1 1.78" fill="none">
<path d="M100.5 141.5H940.5"/>
<path d="M100.5 217.5H940.5"/>
<path d="M100.5 293.5H940.5"/>
<path d="M100.5 368.5H940.5"/>
<path d="M100.5 444.5H940.5"/>
</g>
<g clip-path="url(#axclip)">
<path d="M100.0 501.5L107.0 501.5L112.5 504.0L113.0 506.0L100.0 506.0Z" fill="none" stroke="#000" stroke-width="2" stroke-dasharray="7.7 3.0" stroke-linejoin="round"/>
<path d="M129.7 372.8L133.5 374.2L135.6 378.5L134.0 383.0L129.7 384.6L125.5 383.0L123.8 378.5L125.8 374.3Z" fill="none" stroke="#000" stroke-width="2" stroke-dasharray="7.7 3.0" stroke-linejoin="round"/>
<path d="M186.0 218.2L192.2 224.5L189.5 232.0L186.5 235.2L183.5 232.0L182.5 224.5Z" fill="none" stroke="#000" stroke-width="2" stroke-dasharray="7.7 3.0" stroke-linejoin="round"/>
<path d="M210.0 183.3L217.5 183.3L222.0 190.0L225.0 200.0L223.0 205.0L217.0 208.2L210.0 206.5L206.5 201.0L205.3 194.0L208.0 187.0Z" fill="none" stroke="#000" stroke-width="2" stroke-dasharray="7.7 3.0" stroke-linejoin="round"/>
<path d="M216.0 204.5L220.5 201.0L218.5 190.5L209.5 190.5L209.0 196.0L211.0 203.0Z" fill="none" stroke="#000" stroke-width="1.9" stroke-dasharray="7.4 3.3"/>
<path d="M235.0 192.2L240.0 194.5L244.6 201.5L242.0 206.0L235.0 206.8L232.1 203.0L232.4 196.5Z" fill="none" stroke="#000" stroke-width="2" stroke-dasharray="7.7 3.0" stroke-linejoin="round"/>
<path d="M352.0 168.5L355.5 171.0L355.0 177.0L354.0 184.0L352.0 188.5L345.5 190.0L341.8 186.0L341.5 179.0L345.0 174.0Z" fill="none" stroke="#000" stroke-width="2" stroke-dasharray="7.7 3.0" stroke-linejoin="round"/>
<path d="M719.3 264.0L725.7 269.3L722.7 273.3L719.7 278.3L718.3 275.3L716.0 270.0Z" fill="none" stroke="#000" stroke-width="2" stroke-dasharray="7.7 3.0" stroke-linejoin="round"/>
<path d="M934.0 186.3L941.0 179.3L941.0 194.3Z" fill="none" stroke="#000" stroke-width="2" stroke-dasharray="7.7 3.0" stroke-linejoin="round"/>
<path d="M253.3 352.7L255.0 357.0L255.4 366.0L254.8 373.0L253.5 376.3L252.0 372.0L251.4 364.0L251.9 357.0Z" fill="none" stroke="#000" stroke-width="2" stroke-dasharray="7.7 3.0" stroke-linejoin="round"/>
<path d="M253.5 384.5L255.1 389.0L255.6 397.0L255.1 405.0L253.8 409.6L252.2 405.0L251.5 396.0L252.0 389.0Z" fill="none" stroke="#000" stroke-width="2" stroke-dasharray="7.7 3.0" stroke-linejoin="round"/>
<path d="M271.2 356.0L274.4 360.0L283.2 360.8L292.8 360.0L296.0 363.2L304.0 360.0L310.4 360.8L314.4 364.0L320.8 354.4L327.2 365.6L334.4 365.6L339.2 369.6L344.8 368.8L348.8 376.8L350.4 386.4L350.4 410.0L348.8 438.8L347.2 462.8L345.6 478.0L342.4 481.5L336.0 480.4L329.6 474.0L326.4 477.2L320.0 472.4L316.0 465.0L311.0 463.5L307.0 468.0L305.6 474.0L304.0 486.8L299.2 489.2L294.4 486.8L289.6 474.0L283.2 470.8L278.4 474.0L272.0 474.0L266.4 467.6L264.0 454.8L261.6 442.0L260.8 426.0L264.0 420.0L266.4 404.0L265.6 388.0L267.2 372.0Z" fill="none" stroke="#000" stroke-width="2" stroke-dasharray="7.7 3.0" stroke-linejoin="round"/>
<path d="M278.7 418.8L288.1 427.3L292.9 440.7L293.0 440.9L293.1 441.1L293.2 441.3L296.2 445.4L296.5 458.0L301.0 464.0L305.0 452.0L304.5 443.6L305.9 441.1L306.0 440.9L306.1 440.7L306.2 440.4L306.2 440.2L308.2 420.2L308.2 420.0L308.7 385.0L308.7 384.9L308.7 384.7L307.2 373.7L307.1 373.5L307.1 373.3L307.0 373.1L306.9 372.9L306.8 372.7L306.7 372.6L306.5 372.4L306.4 372.3L306.2 372.2L306.0 372.1L305.8 372.0L305.6 371.9L305.4 371.8L295.4 369.8L295.2 369.8L282.2 368.8L282.0 368.8L281.7 368.8L281.5 368.8L274.5 370.3L274.3 370.4L274.1 370.5L273.9 370.6L273.7 370.7L273.6 370.8L270.2 373.8L268.7 388.1L269.5 404.2L268.6 410.0L268.7 410.5L269.3 413.4L269.4 413.5L269.6 413.7L269.7 413.8L269.9 413.9ZM320.2 373.5L322.6 371.5L322.0 364.0L319.6 364.5ZM328.6 445.2L325.0 446.0L326.0 458.0L332.0 462.0L338.0 456.0L335.3 448.0L342.0 444.0L346.0 428.0L346.0 384.0L340.7 372.5L338.3 372.9L335.5 370.5L325.0 369.5L322.5 374.0L322.5 420.0L325.0 440.0Z" fill="none" stroke="#000" stroke-width="1.9" stroke-dasharray="7.4 3.3"/>
<path d="M291.6 393.4L291.6 393.7L291.7 394.1L291.8 394.4L292.0 394.7L292.2 395.0L292.4 395.2L295.4 398.7L295.6 399.0L295.9 399.2L296.2 399.4L296.4 399.6L296.8 399.7L297.1 399.8L297.4 399.9L297.8 399.9L298.1 399.9L298.4 399.9L298.8 399.9L299.1 399.8L299.4 399.6L299.7 399.5L300.0 399.3L303.5 396.8L303.8 396.6L304.0 396.4L304.2 396.1L304.4 395.9L304.6 395.6L304.7 395.3L304.8 395.0L304.8 394.8L304.6 386.6L302.5 382.8L302.3 382.5L302.1 382.3L301.9 382.0L301.7 381.8L301.4 381.6L301.1 381.5L300.8 381.3L300.5 381.2L300.2 381.1L299.9 381.1L299.5 381.1L299.2 381.1L298.9 381.1L298.6 381.2L298.3 381.3L298.0 381.4L294.0 383.4L293.6 383.6L293.4 383.8L293.1 384.0L292.9 384.3L292.6 384.6L292.5 384.9L292.3 385.2L292.2 385.5L292.1 385.9L292.1 386.2L291.6 392.7L291.6 393.1ZM277.4 409.4L277.5 409.4L277.7 409.5L277.8 409.5L278.0 409.5L278.1 409.5L278.3 409.5L278.4 409.4L278.5 409.4L278.7 409.3L278.8 409.3L278.9 409.2L279.0 409.1L279.1 409.0L279.2 408.8L279.3 408.7L283.1 401.7L283.2 401.6L283.2 401.5L283.3 401.3L283.3 401.2L283.3 401.0L283.3 400.9L282.5 390.4L282.5 390.2L282.4 390.1L282.4 389.9L282.3 389.8L282.3 389.7L282.2 389.6L282.1 389.4L278.1 385.4L278.0 385.3L277.8 385.3L277.7 385.2L277.6 385.1L277.4 385.1L277.3 385.0L277.1 385.0L277.0 385.0L276.8 385.0L276.7 385.0L276.6 385.1L276.4 385.1L276.3 385.2L276.2 385.3L276.0 385.3L272.0 388.7L272.9 405.5L277.0 409.1L277.1 409.2L277.2 409.3Z" fill="none" stroke="#000" stroke-width="1.9" stroke-dasharray="7.4 3.3"/>
<path d="M384.8 416.0L385.6 396.8L391.2 387.2L400.8 379.2L413.6 379.5L419.2 385.6L431.2 383.2L435.2 391.2L444.0 398.4L448.0 403.2L452.0 396.8L452.8 368.0L461.6 356.8L470.4 368.0L472.8 387.2L472.8 406.0L474.4 419.6L472.0 426.0L474.4 430.0L473.6 438.0L468.8 446.0L461.6 451.6L454.4 445.2L452.0 436.4L448.8 428.4L444.0 420.4L437.6 424.4L432.0 420.4L426.4 411.6L420.0 410.8L419.2 429.2L414.4 433.2L413.6 446.0L408.0 454.0L400.8 459.6L394.4 454.0L393.6 444.4L391.2 430.0L385.6 415.6Z" fill="none" stroke="#000" stroke-width="2" stroke-dasharray="7.7 3.0" stroke-linejoin="round"/>
<path d="M458.0 400.0L458.6 412.0L461.8 418.0L465.0 412.0L466.2 400.0L465.0 386.0L462.0 381.0L459.0 386.0Z" fill="none" stroke="#000" stroke-width="1.9" stroke-dasharray="7.4 3.3"/>
<path d="M480.5 330.4L476.0 337.6L477.6 346.4L481.6 352.0L480.8 368.0L480.8 396.8L480.0 416.0L480.0 424.0L482.4 430.0L485.6 437.0L490.4 431.0L494.4 420.0L494.6 396.8L493.6 368.0L490.4 352.0L491.2 344.0L487.2 336.0Z" fill="none" stroke="#000" stroke-width="2" stroke-dasharray="7.7 3.0" stroke-linejoin="round"/>
<path d="M514.4 399.6L516.0 394.8L524.0 394.0L526.4 402.8L526.6 426.8L524.0 435.6L517.6 436.4L513.6 430.0L513.6 406.0Z" fill="none" stroke="#000" stroke-width="2" stroke-dasharray="7.7 3.0" stroke-linejoin="round"/>
<path d="M742.0 478.8L738.8 458.0L734.8 442.0L730.8 426.0L729.2 410.0L727.6 404.0L727.6 388.0L730.0 368.8L732.4 368.0L742.8 374.4L746.0 360.8L749.7 353.6L754.0 362.4L756.4 372.0L757.2 386.4L762.0 388.8L769.2 381.6L780.4 375.5L787.6 383.2L784.4 391.2L785.2 400.8L787.6 405.6L786.0 410.4L786.8 424.4L791.6 427.6L799.6 421.2L806.0 417.2L815.6 414.8L820.4 407.2L818.8 394.4L820.4 383.2L824.4 380.0L830.0 379.7L834.4 386.4L836.0 392.8L840.0 384.8L848.8 382.4L860.0 379.2L866.4 383.2L872.8 386.4L876.8 374.4L880.0 372.0L884.0 374.4L884.8 360.8L890.4 352.5L895.2 362.4L898.4 360.8L903.2 352.5L909.6 360.0L916.0 364.8L922.4 363.7L927.2 368.8L935.2 372.0L944.0 371.2L944.0 456.4L935.2 458.0L933.6 463.6L925.6 466.8L919.2 464.4L914.4 458.0L909.6 450.0L907.2 439.6L900.8 438.8L898.4 454.8L893.6 459.6L891.2 467.6L889.6 477.2L884.0 480.4L879.2 474.8L874.4 471.6L868.0 475.6L860.0 477.2L854.4 484.4L848.0 489.2L844.0 482.0L840.8 475.6L831.2 474.0L826.4 469.2L822.0 459.6L815.6 451.6L809.2 449.2L799.6 447.6L798.0 451.6L793.2 454.8L788.4 452.4L783.6 448.4L774.0 450.8L763.6 450.0L762.0 458.0L762.8 478.8L756.4 485.2L752.4 480.4L748.4 476.4L744.4 480.4Z" fill="none" stroke="#000" stroke-width="2" stroke-dasharray="7.7 3.0" stroke-linejoin="round"/>
<path d="M823.3 407.9L823.3 408.0L823.4 408.2L823.6 408.4L823.7 408.5L823.9 408.7L824.0 408.8L824.2 408.9L824.4 409.0L824.6 409.1L824.8 409.2L825.1 409.2L825.3 409.2L825.5 409.2L825.7 409.2L825.9 409.1L826.1 409.0L826.3 408.9L826.5 408.8L826.7 408.7L826.9 408.5L827.0 408.4L827.1 408.2L827.3 408.0L827.3 407.8L829.3 402.8L829.4 402.6L829.5 402.4L829.5 402.2L829.5 401.9L829.2 389.9L829.2 389.7L829.1 389.5L829.1 389.3L829.0 389.1L828.9 388.9L826.9 385.4L826.8 385.2L826.7 385.1L826.5 384.9L826.3 384.8L826.2 384.6L826.0 384.5L825.8 384.4L825.5 384.4L825.3 384.3L825.1 384.3L824.9 384.3L824.7 384.3L824.5 384.4L824.3 384.4L824.0 384.5L823.9 384.6L823.7 384.7L823.5 384.9L823.4 385.0L823.2 385.2L822.9 385.7L822.2 390.3L822.1 391.0L822.1 391.0L821.6 394.4L823.3 407.8ZM842.2 393.1L840.2 400.5L842.2 407.9L847.6 413.3L855.0 415.3L862.4 413.3L867.8 407.9L869.8 400.5L867.8 393.1L862.4 387.7L855.0 385.7L847.6 387.7ZM810.5 431.7L810.6 431.9L810.7 432.0L810.8 432.2L813.4 435.7L813.5 435.8L813.6 436.0L813.8 436.1L813.9 436.2L814.1 436.3L814.3 436.4L814.5 436.4L814.6 436.5L814.8 436.5L815.0 436.5L815.2 436.5L815.4 436.5L820.4 435.5L820.6 435.4L820.8 435.3L821.0 435.3L821.1 435.1L821.3 435.0L821.5 434.9L821.6 434.7L821.7 434.6L821.8 434.4L821.9 434.2L823.9 428.7L823.9 428.5L824.0 428.3L824.0 428.1L824.0 427.9L824.0 427.7L823.9 427.5L823.9 427.4L823.8 427.2L823.7 427.0L823.6 426.9L823.5 426.7L820.5 423.2L820.4 423.1L820.2 422.9L820.1 422.8L819.9 422.7L819.7 422.6L819.5 422.6L819.3 422.5L819.1 422.5L818.9 422.5L818.7 422.5L818.5 422.6L812.5 424.1L812.3 424.1L812.1 424.2L812.0 424.3L811.8 424.4L811.6 424.5L811.5 424.7L811.4 424.8L811.3 425.0L811.2 425.2L811.1 425.4L811.0 425.6L811.0 425.8L810.4 430.8L810.4 431.0L810.4 431.1L810.4 431.3L810.5 431.5ZM862.0 441.0L862.5 428.0L859.0 419.0L850.0 419.0L842.0 414.0L842.0 440.0L846.0 452.0L852.0 457.0L858.0 452.0ZM905.6 387.1L905.8 388.4L906.0 389.7L912.5 391.1L920.5 389.4L926.4 384.6L928.6 378.0L926.4 371.4L920.5 366.6L917.5 366.0L915.6 366.3L914.3 365.2L912.5 364.9L904.5 366.6L903.1 367.7L903.3 369.3L903.3 369.3L903.5 370.6L903.5 370.6ZM941.2 397.7L941.2 393.6L941.2 384.7L941.2 380.8L929.0 383.0L932.0 397.0ZM888.0 384.0L888.5 400.0L891.5 405.0L894.5 400.0L894.0 386.0L891.0 381.0ZM934.0 410.0L930.0 401.0L921.0 398.5L915.0 404.0L914.5 420.0L916.0 436.0L922.0 444.0L930.0 442.0L934.0 436.0ZM883.0 408.0L877.0 412.0L877.0 430.0L880.0 440.0L886.0 438.0L889.0 428.0L887.0 414.0Z" fill="none" stroke="#000" stroke-width="1.9" stroke-dasharray="7.4 3.3"/>
<path d="M908.2 371.9L905.1 374.5L904.3 376.9L904.8 380.6L905.1 381.5L908.2 384.1L912.5 385.0L916.8 384.1L919.9 381.5L921.1 378.0L919.9 374.5L916.8 371.9L912.5 371.0ZM851.3 394.1L848.6 396.8L847.6 400.5L848.6 404.2L851.3 406.9L855.0 407.9L858.7 406.9L861.4 404.2L862.4 400.5L861.4 396.8L858.7 394.1L855.0 393.1Z" fill="none" stroke="#000" stroke-width="1.9" stroke-dasharray="7.4 3.3"/>
<path d="M311 429L315.5 427L317 440L316.6 453.5L313.4 456L311.2 446Z" fill="none" stroke="#000" stroke-width="1.6" stroke-dasharray="7.7 3"/>
<path d="M770 412.5L774.5 411.5L775.5 407" fill="none" stroke="#000" stroke-width="1.8"/><path d="M748.6 412L750.5 409.5L752 413L751 418" fill="none" stroke="#000" stroke-width="1.5"/>
<path d="M763.5 393.5L768.5 397.5L774 393.5" fill="none" stroke="#fff" stroke-width="1.6"/><ellipse cx="769.2" cy="443.6" rx="4.6" ry="2.2" fill="#fff"/>
<g font-size="14.1" fill="#fff" text-anchor="middle">
<text transform="translate(263.5 432) rotate(88)" y="5" textLength="34.4" lengthAdjust="spacingAndGlyphs" style="fill:#fff">-30.0</text>
<text transform="translate(317.5 420) rotate(86)" y="5" textLength="34.4" lengthAdjust="spacingAndGlyphs" style="fill:#fff">-30.0</text>
<text transform="translate(340 450.5) rotate(-64)" y="5" textLength="34.4" lengthAdjust="spacingAndGlyphs" style="fill:#fff">-26.0</text>
<text transform="translate(392.5 425) rotate(75)" y="5" textLength="34.4" lengthAdjust="spacingAndGlyphs" style="fill:#fff">-30.0</text>
<text transform="translate(492.5 421) rotate(-57)" y="5" textLength="34.4" lengthAdjust="spacingAndGlyphs" style="fill:#fff">-30.0</text>
<text transform="translate(819.6 447.6) rotate(41)" y="5" textLength="34.4" lengthAdjust="spacingAndGlyphs" style="fill:#fff">-30.0</text>
<text transform="translate(849 444) rotate(8)" y="5" textLength="34.4" lengthAdjust="spacingAndGlyphs" style="fill:#fff">-26.0</text>
<text transform="translate(269 374.5) rotate(-54.7)" y="5" textLength="34.4" lengthAdjust="spacingAndGlyphs" style="fill:#fff">-26.0</text>
</g>
</g>
<rect x="100.5" y="66.5" width="840.0" height="439.0" fill="none" stroke="#000" stroke-width="1.1"/>
<g stroke="#000" stroke-width="1.1">
<path d="M89 66.5H100.5"/>
<path d="M89 141.5H100.5"/>
<path d="M89 217.5H100.5"/>
<path d="M89 293.5H100.5"/>
<path d="M89 368.5H100.5"/>
<path d="M89 444.5H100.5"/>
<path d="M89 505.5H100.5"/>
<path d="M100.5 505.5V511.0"/>
<path d="M174.5 505.5V511.0"/>
<path d="M247.5 505.5V516.5"/>
<path d="M321.5 505.5V511.0"/>
<path d="M395.5 505.5V511.0"/>
<path d="M468.5 505.5V511.0"/>
<path d="M542.5 505.5V511.0"/>
<path d="M615.5 505.5V511.0"/>
<path d="M689.5 505.5V511.0"/>
<path d="M763.5 505.5V511.0"/>
<path d="M836.5 505.5V511.0"/>
<path d="M910.5 505.5V511.0"/>
<path d="M1014.3 87.5H1019.6"/>
<path d="M1014.3 147.5H1019.6"/>
<path d="M1014.3 206.5H1019.6"/>
<path d="M1014.3 266.5H1019.6"/>
<path d="M1014.3 326.5H1019.6"/>
<path d="M1014.3 386.5H1019.6"/>
<path d="M1014.3 445.5H1019.6"/>
<path d="M1014.3 505.5H1019.6"/>
</g>
<g font-size="20.55">
<text x="54.0" y="73.6" textLength="28.6" lengthAdjust="spacingAndGlyphs">3.0</text>
<text x="53.0" y="148.6" textLength="29.6" lengthAdjust="spacingAndGlyphs">2.5</text>
<text x="54.0" y="224.6" textLength="28.6" lengthAdjust="spacingAndGlyphs">2.0</text>
<text x="54.0" y="300.6" textLength="28.6" lengthAdjust="spacingAndGlyphs">1.5</text>
<text x="54.0" y="375.6" textLength="27.6" lengthAdjust="spacingAndGlyphs">1.0</text>
<text x="54.0" y="451.6" textLength="28.6" lengthAdjust="spacingAndGlyphs">0.5</text>
<text x="54.0" y="511.9" textLength="27.6" lengthAdjust="spacingAndGlyphs">0.1</text>
<text x="89.0" y="530.1" textLength="22.9" lengthAdjust="spacingAndGlyphs">20</text>
<text x="162.0" y="530.1" textLength="22.9" lengthAdjust="spacingAndGlyphs">22</text>
<text x="216.0" y="535.6" textLength="64.1" lengthAdjust="spacingAndGlyphs">Feb-08</text>
<text x="310.0" y="530.1" textLength="21.8" lengthAdjust="spacingAndGlyphs">02</text>
<text x="384.0" y="530.1" textLength="21.9" lengthAdjust="spacingAndGlyphs">04</text>
<text x="458.0" y="530.1" textLength="21.9" lengthAdjust="spacingAndGlyphs">06</text>
<text x="531.0" y="530.1" textLength="21.9" lengthAdjust="spacingAndGlyphs">08</text>
<text x="605.0" y="530.1" textLength="21.8" lengthAdjust="spacingAndGlyphs">10</text>
<text x="678.0" y="530.1" textLength="21.8" lengthAdjust="spacingAndGlyphs">12</text>
<text x="752.0" y="530.1" textLength="21.8" lengthAdjust="spacingAndGlyphs">14</text>
<text x="826.0" y="530.1" textLength="21.8" lengthAdjust="spacingAndGlyphs">16</text>
<text x="899.0" y="530.1" textLength="21.8" lengthAdjust="spacingAndGlyphs">18</text>
<text x="1024.0" y="94.6" textLength="11.4" lengthAdjust="spacingAndGlyphs">5</text>
<text x="1025.0" y="154.3" textLength="10.4" lengthAdjust="spacingAndGlyphs">0</text>
<text x="1023.0" y="214.0" textLength="18.3" lengthAdjust="spacingAndGlyphs">-5</text>
<text x="1023.0" y="273.7" textLength="30.7" lengthAdjust="spacingAndGlyphs">-10</text>
<text x="1022.9" y="333.4" textLength="31.8" lengthAdjust="spacingAndGlyphs">-15</text>
<text x="1023.0" y="393.2" textLength="30.7" lengthAdjust="spacingAndGlyphs">-20</text>
<text x="1022.9" y="452.9" textLength="31.8" lengthAdjust="spacingAndGlyphs">-25</text>
<text x="1023.0" y="512.6" textLength="30.7" lengthAdjust="spacingAndGlyphs">-30</text>
</g>
<text y="32.9" font-size="32.48"><tspan x="166.0" textLength="115.0" lengthAdjust="spacingAndGlyphs">Albany,</tspan> <tspan x="292.1" textLength="41.9" lengthAdjust="spacingAndGlyphs">NY</tspan> <tspan x="344.0" textLength="101.6" lengthAdjust="spacingAndGlyphs">(ALBA)</tspan> <tspan x="456.9" textLength="76.3" lengthAdjust="spacingAndGlyphs">Lidar</tspan> <tspan x="543.0" textLength="242.0" lengthAdjust="spacingAndGlyphs">Carrier-to-Noise</tspan> <tspan x="794.9" textLength="78.9" lengthAdjust="spacingAndGlyphs">Ratio</tspan></text>
<text y="57.7" font-size="26.6"><tspan x="298.0" textLength="30.6" lengthAdjust="spacingAndGlyphs">20</tspan> <tspan x="338.1" textLength="48.5" lengthAdjust="spacingAndGlyphs">UTC</tspan> <tspan x="396.0" textLength="110.6" lengthAdjust="spacingAndGlyphs">02/07/20</tspan> <tspan x="515.0" textLength="8.9" lengthAdjust="spacingAndGlyphs">-</tspan> <tspan x="533.0" textLength="30.6" lengthAdjust="spacingAndGlyphs">20</tspan> <tspan x="573.1" textLength="48.5" lengthAdjust="spacingAndGlyphs">UTC</tspan> <tspan x="631.0" textLength="110.6" lengthAdjust="spacingAndGlyphs">02/08/20</tspan></text>
<text y="563.5" font-size="23.49"><tspan x="459.0" textLength="54.3" lengthAdjust="spacingAndGlyphs">Time</tspan> <tspan x="521.0" textLength="60.8" lengthAdjust="spacingAndGlyphs">(UTC)</tspan></text>
<text transform="translate(26.8 286) rotate(-90)" font-size="23.49"><tspan x="-65.4" textLength="71.9" lengthAdjust="spacingAndGlyphs">Height</tspan> <tspan x="14.6" textLength="51.1" lengthAdjust="spacingAndGlyphs">(km)</tspan></text>
<text transform="translate(1077 286.5) rotate(-90)" font-size="23.49"><tspan x="-50.2" textLength="47.8" lengthAdjust="spacingAndGlyphs">CNR</tspan> <tspan x="4.7" textLength="45.4" lengthAdjust="spacingAndGlyphs">(dB)</tspan></text>
<g>
<rect x="992.8" y="492.17" width="21.0" height="12.23" fill="#001664"/>
<rect x="992.8" y="480.24" width="21.0" height="12.23" fill="#004922"/>
<rect x="992.8" y="468.31" width="21.0" height="12.23" fill="#003d59"/>
<rect x="992.8" y="456.37" width="21.0" height="12.23" fill="#000ecd"/>
<rect x="992.8" y="444.44" width="21.0" height="12.23" fill="#0047ff"/>
<rect x="992.8" y="432.51" width="21.0" height="12.23" fill="#00b8ff"/>
<rect x="992.8" y="420.58" width="21.0" height="12.23" fill="#00dcff"/>
<rect x="992.8" y="408.65" width="21.0" height="12.23" fill="#00fbf2"/>
<rect x="992.8" y="396.72" width="21.0" height="12.23" fill="#00fcbd"/>
<rect x="992.8" y="384.79" width="21.0" height="12.23" fill="#00fa88"/>
<rect x="992.8" y="372.85" width="21.0" height="12.23" fill="#00fd3f"/>
<rect x="992.8" y="360.92" width="21.0" height="12.23" fill="#20f400"/>
<rect x="992.8" y="348.99" width="21.0" height="12.23" fill="#4cd900"/>
<rect x="992.8" y="337.06" width="21.0" height="12.23" fill="#6cdb00"/>
<rect x="992.8" y="325.13" width="21.0" height="12.23" fill="#7cf500"/>
<rect x="992.8" y="313.20" width="21.0" height="12.23" fill="#96ff1c"/>
<rect x="992.8" y="301.27" width="21.0" height="12.23" fill="#b6ff38"/>
<rect x="992.8" y="289.33" width="21.0" height="12.23" fill="#dbff20"/>
<rect x="992.8" y="277.40" width="21.0" height="12.23" fill="#fafa04"/>
<rect x="992.8" y="265.47" width="21.0" height="12.23" fill="#ffe900"/>
<rect x="992.8" y="253.54" width="21.0" height="12.23" fill="#ffd801"/>
<rect x="992.8" y="241.61" width="21.0" height="12.23" fill="#ffc40a"/>
<rect x="992.8" y="229.68" width="21.0" height="12.23" fill="#ffa10b"/>
<rect x="992.8" y="217.75" width="21.0" height="12.23" fill="#ff6805"/>
<rect x="992.8" y="205.81" width="21.0" height="12.23" fill="#ff3400"/>
<rect x="992.8" y="193.88" width="21.0" height="12.23" fill="#ff1300"/>
<rect x="992.8" y="181.95" width="21.0" height="12.23" fill="#ff0058"/>
<rect x="992.8" y="170.02" width="21.0" height="12.23" fill="#ff00e6"/>
<rect x="992.8" y="158.09" width="21.0" height="12.23" fill="#d615ff"/>
<rect x="992.8" y="146.16" width="21.0" height="12.23" fill="#a62dff"/>
<rect x="992.8" y="134.23" width="21.0" height="12.23" fill="#c85cf5"/>
<rect x="992.8" y="122.29" width="21.0" height="12.23" fill="#ec84ef"/>
<rect x="992.8" y="110.36" width="21.0" height="12.23" fill="#f1a5f3"/>
<rect x="992.8" y="98.43" width="21.0" height="12.23" fill="#f7caf8"/>
<rect x="992.8" y="86.50" width="21.0" height="12.23" fill="#fceafc"/>
</g>
<path d="M992.8 87.3L1003.3 65.9L1013.8 87.3Z" fill="#fef8fe"/>
<path d="M992.8 504.4V86.8L1003.3 65.9L1013.8 86.8V504.4Z" fill="none" stroke="#000" stroke-width="1.1" stroke-linejoin="miter"/>
<path d="M1013.7 521.5L1025.8 521L1026.3 527.1L1027.3 535.1L1026.8 548.2L1025.8 559.3L1027.3 560.3L1037.4 558.3L1037.9 559.3L1029.3 563.3L1021.8 565.3L1022.3 563.8L1024.3 561.3L1020.3 559.3L1015.3 556.8L1013.7 553.7L1008.2 550.2L981 549.2L980 547.7L985.1 544.2L987.1 542.2L985.6 538.7L988.1 537.6L1000.2 537.6L1004.2 536.6L1005.7 534.1L1005.2 531.1L1006.2 528.1L1009.2 525.6Z" fill="#eea80c"/>
<text x="1004" y="548.6" font-size="14.5" font-weight="bold" textLength="20.6" lengthAdjust="spacingAndGlyphs" style="fill:#fff;stroke:#fff;stroke-width:0.5">NYS</text>
<text x="1029" y="548.6" font-size="14.5" font-weight="bold" textLength="47.4" lengthAdjust="spacingAndGlyphs" style="fill:#46166b;stroke:#46166b;stroke-width:0.55">Mesonet</text>
<text x="1029.3" y="555.8" font-size="5.9" font-weight="bold" textLength="46.8" lengthAdjust="spacingAndGlyphs" style="fill:#5a3580;stroke:#5a3580;stroke-width:0.15">UNIVERSITY AT ALBANY</text>

</svg></body></html>
